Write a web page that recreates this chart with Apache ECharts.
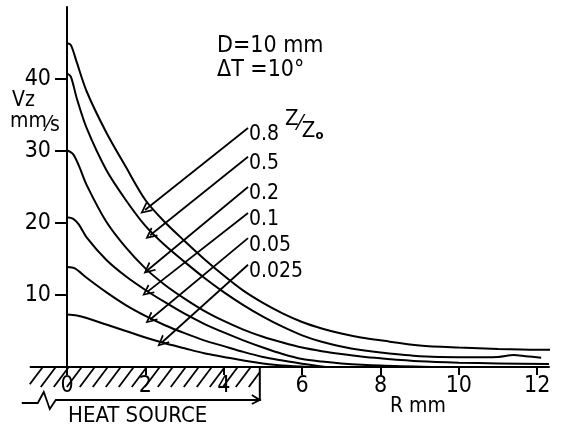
<!DOCTYPE html>
<html>
<head>
<meta charset="utf-8">
<script src="https://cdn.jsdelivr.net/npm/echarts@6/dist/echarts.min.js"></script>
<style>
html,body{margin:0;padding:0;background:#fff;}
#c{width:573px;height:428px;}
</style>
</head>
<body>
<div id="c"></div>
<script>
// ---- data ----
const xTicks = [0, 2, 4, 6, 8, 10, 12];
const yTicks = [10, 20, 30, 40];
const ratioLabels = ['0.8', '0.5', '0.2', '0.1', '0.05', '0.025'];

const curve08 = [[0,45],[0.1,44.7],[0.25,42.3],[0.5,38.3],[1,32.6],[1.5,27.8],[2,23.2],[2.5,20.1],[3,17.5],[3.5,15],[4,12.7],[4.5,10.6],[5,8.9],[5.5,7.45],[6,6.25],[6.5,5.35],[7,4.65],[7.5,4.1],[8,3.7],[9,3.0],[10,2.7],[11,2.5],[12,2.4],[12.6,2.4]];
const curve05 = [[0,40.8],[0.1,40.3],[0.25,37.3],[0.5,33.2],[1,27.4],[1.5,23.2],[2,19.6],[2.5,16.9],[3,14.6],[3.5,12.4],[4,10.4],[4.5,8.6],[5,7.0],[5.5,5.6],[6,4.4],[6.5,3.5],[7,2.85],[7.5,2.35],[8,2.0],[9,1.5],[10,1.35],[11,1.4],[11.4,1.65],[11.7,1.5],[12.1,1.3]];
const curve02 = [[0,30.1],[0.15,29.6],[0.3,28],[0.5,25.3],[1,20.2],[1.5,16.6],[2,13.7],[2.5,11.4],[3,9.5],[3.5,7.8],[4,6.4],[4.5,5.2],[5,4.2],[5.5,3.4],[6,2.7],[6.5,2.2],[7,1.8],[7.5,1.45],[8,1.2],[9,0.8],[10,0.6],[11,0.5],[12.3,0.4]];
const curve01 = [[0,20.8],[0.15,20.6],[0.3,19.8],[0.5,18],[1,14.9],[1.5,12.6],[2,10.7],[2.5,9.0],[3,7.4],[3.5,6.0],[4,4.8],[4.5,3.7],[5,2.7],[5.5,1.8],[6,1.1],[6.5,0.75],[7,0.5],[8,0.2],[9.3,0]];
const curve005 = [[0,13.9],[0.2,13.7],[0.5,12.4],[1,10.4],[1.5,8.6],[2,7.1],[2.5,5.8],[3,4.7],[3.5,3.7],[4,2.9],[4.5,2.1],[5,1.4],[5.5,0.9],[6,0.45],[6.6,0]];
const curve0025 = [[0,7.3],[0.25,7.15],[0.5,6.8],[1,5.9],[1.5,5.0],[2,4.1],[2.5,3.3],[3,2.6],[3.5,1.9],[4,1.4],[4.5,0.9],[5,0.5],[5.5,0.2],[6.2,0]];

const arrowStart = [[4.62,33.2],[4.62,29.2],[4.62,25],[4.62,21.4],[4.62,17.9],[4.62,14.2]];
const arrowEnd = [[1.99,21.8],[2.12,18.3],[2.07,13.5],[2.04,10.4],[2.12,6.6],[2.42,3.4]];

const heatSourceRange = [-0.95, 4.92];

// ---- chart ----
const FONT = '"DejaVu Sans Condensed", "Liberation Sans Narrow", "DejaVu Sans", sans-serif';
const chart = echarts.init(document.getElementById('c'), null, {renderer: 'canvas'});

const curves = [curve08, curve05, curve02, curve01, curve005, curve0025];
const series = curves.map(c => ({
  type: 'line',
  data: c,
  smooth: 0.3,
  showSymbol: false,
  clip: false,
  lineStyle: {color: '#000', width: 2},
  silent: true,
  z: 3
}));

// arrows
series.push({
  type: 'line',
  data: [],
  silent: true,
  markLine: {
    silent: true,
    symbol: ['none', 'path://M0,0 L-6,12 L-4.2,12.6 L0,4 L4.2,12.6 L6,12 Z'],
    symbolSize: [11, 12],
    animation: false,
    label: {show: false},
    lineStyle: {color: '#000', width: 1.8, type: 'solid'},
    data: arrowStart.map((s, i) => [{coord: s}, {coord: arrowEnd[i]}])
  }
});

// ratio labels
series.push({
  type: 'scatter',
  data: arrowStart.map((s, i) => ({value: s, name: ratioLabels[i]})),
  symbolSize: 0,
  silent: true,
  itemStyle: {opacity: 1},
  label: {
    show: true,
    position: 'right',
    distance: 1,
    offset: [0, 7],
    formatter: p => p.name,
    color: '#000',
    fontSize: 21,
    fontFamily: FONT
  }
});

// heat source hatch + axis extension to the left of x = 0
series.push({
  type: 'custom',
  coordinateSystem: 'cartesian2d',
  data: [[0]],
  clip: false,
  silent: true,
  z: 1,
  renderItem: function (params, api) {
    const p0 = api.coord([heatSourceRange[0], 0]);
    const p1 = api.coord([heatSourceRange[1], 0]);
    const pz = api.coord([0, 0]);
    const y0 = p0[1];
    const left = p0[0], right = p1[0];
    const children = [];
    children.push({type: 'line', shape: {x1: left, y1: y0, x2: pz[0], y2: y0}, style: {stroke: '#000', lineWidth: 2}});
    const depth = 20, dx = 15, step = 13;
    for (let x = left - dx; x < right; x += step) {
      let xa = x, ya = y0 + depth, xb = x + dx, yb = y0;
      if (xa < left) { const t = (left - xa) / dx; xa = left; ya = y0 + depth - t * depth; }
      if (xb > right) { const t = (xb - right) / dx; xb = right; yb = y0 + t * depth; }
      if (xb <= xa) continue;
      children.push({type: 'line', shape: {x1: xa, y1: ya, x2: xb, y2: yb}, style: {stroke: '#000', lineWidth: 1.8}});
    }
    children.push({type: 'line', shape: {x1: right, y1: y0, x2: right, y2: y0 + 34}, style: {stroke: '#000', lineWidth: 2}});
    const yb2 = y0 + 33;
    children.push({type: 'polyline', shape: {points: [[left - 8, yb2 + 3], [left + 8, yb2 + 3], [left + 14, yb2 - 8], [left + 20, yb2 + 9], [left + 26, yb2], [right, yb2]]}, style: {stroke: '#000', lineWidth: 1.8, fill: null}});
    children.push({type: 'polyline', shape: {points: [[right - 8, yb2 - 5], [right, yb2], [right - 8, yb2 + 4]]}, style: {stroke: '#000', lineWidth: 1.8, fill: null}});
    return {type: 'group', children: children};
  }
});

const option = {
  backgroundColor: '#fff',
  animation: false,
  grid: {left: 67, right: 24, top: 7, bottom: 61, containLabel: false},
  xAxis: {
    type: 'value',
    min: 0,
    max: 12.3,
    splitLine: {show: false},
    axisLine: {onZero: false, lineStyle: {color: '#000', width: 2}},
    axisTick: {show: true, customValues: xTicks, length: 8, lineStyle: {color: '#000', width: 2}},
    axisLabel: {customValues: xTicks, color: '#000', fontSize: 23, fontFamily: FONT, margin: 8}
  },
  yAxis: {
    type: 'value',
    min: 0,
    max: 50,
    interval: 10,
    splitLine: {show: false},
    axisLine: {onZero: false, lineStyle: {color: '#000', width: 2}},
    axisTick: {show: true, customValues: yTicks, length: 12, lineStyle: {color: '#000', width: 2}},
    axisLabel: {customValues: yTicks, color: '#000', fontSize: 23, fontFamily: FONT, margin: 16}
  },
  graphic: [
    {type: 'text', left: 217, top: 35, style: {text: 'D=10 mm', fontSize: 23, fontFamily: FONT, fill: '#000'}},
    {type: 'text', left: 217, top: 59, style: {text: 'ΔT =10°', fontSize: 23, fontFamily: FONT, fill: '#000'}},
    {type: 'text', left: 12, top: 90, style: {text: 'Vz', fontSize: 21, fontFamily: FONT, fill: '#000'}},
    {type: 'text', left: 10, top: 111, style: {text: '{a|mm}{b|⁄s}', rich: {a: {fontSize: 21, fontFamily: FONT, fill: '#000'}, b: {fontSize: 21, fontFamily: FONT, fill: '#000', padding: [8, 0, 0, 0]}}}},
    {type: 'text', left: 285, top: 108, style: {text: '{a|Z}{b|⁄}{c|Z}{d|o}', rich: {
      a: {fontSize: 22, fontFamily: FONT, fill: '#000', padding: [0, 0, 10, 0]},
      b: {fontSize: 22, fontFamily: FONT, fill: '#000'},
      c: {fontSize: 22, fontFamily: FONT, fill: '#000', padding: [14, 0, 0, 0]},
      d: {fontSize: 13, fontFamily: FONT, fill: '#000', fontWeight: 'bold', padding: [24, 0, 0, 0]}
    }}},
    {type: 'text', left: 68, top: 405, style: {text: 'HEAT SOURCE', fontSize: 22, fontFamily: FONT, fill: '#000'}},
    {type: 'text', left: 390, top: 396, style: {text: 'R mm', fontSize: 21, fontFamily: FONT, fill: '#000'}}
  ],
  series: series
};
chart.setOption(option);
</script>
</body>
</html>
